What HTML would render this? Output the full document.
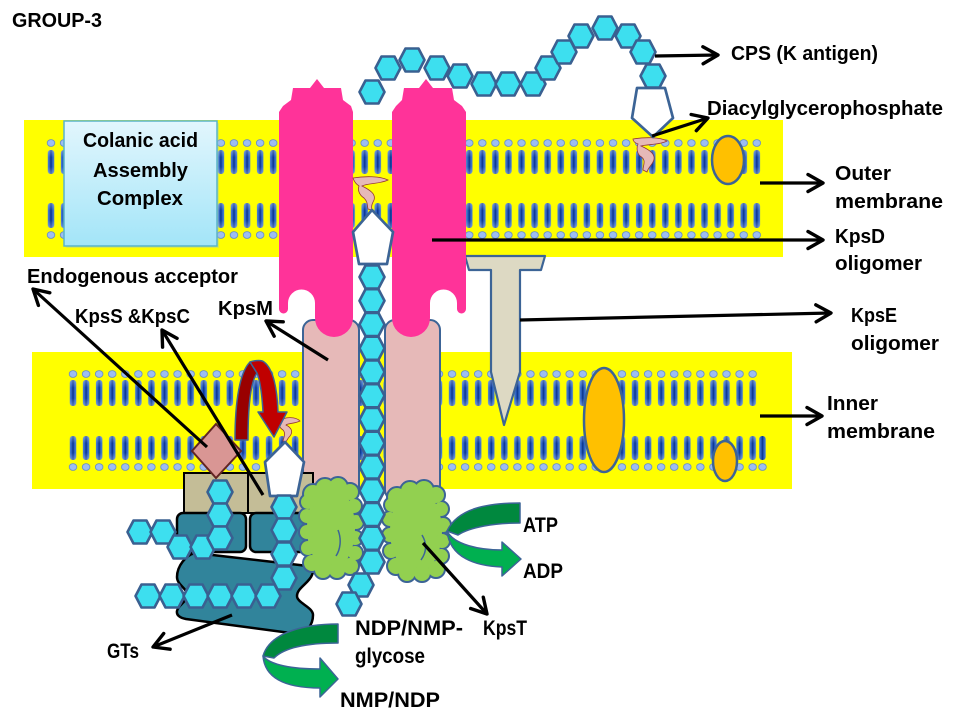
<!DOCTYPE html>
<html><head><meta charset="utf-8"><style>
html,body{margin:0;padding:0;background:#fff;}
svg{display:block;}
text{font-family:"Liberation Sans",Arial,sans-serif;font-weight:bold;fill:#000;}
</style></head><body>
<svg width="960" height="720" viewBox="0 0 960 720" xmlns="http://www.w3.org/2000/svg">
<defs>
  <linearGradient id="tail" x1="0" y1="0" x2="1" y2="0">
    <stop offset="0" stop-color="#4a80d8"/>
    <stop offset="0.3" stop-color="#2a5fbe"/>
    <stop offset="0.5" stop-color="#08318a"/>
    <stop offset="0.7" stop-color="#2a5fbe"/>
    <stop offset="1" stop-color="#4a80d8"/>
  </linearGradient>
  <linearGradient id="tailv" x1="0" y1="0" x2="0" y2="1">
    <stop offset="0" stop-color="#ffffff" stop-opacity="0.3"/>
    <stop offset="0.3" stop-color="#ffffff" stop-opacity="0"/>
    <stop offset="0.7" stop-color="#ffffff" stop-opacity="0"/>
    <stop offset="1" stop-color="#ffffff" stop-opacity="0.3"/>
  </linearGradient>
  <linearGradient id="box" x1="0" y1="0" x2="0" y2="1">
    <stop offset="0" stop-color="#e2f6fd"/>
    <stop offset="1" stop-color="#a3e5f8"/>
  </linearGradient>
  <pattern id="lipO" patternUnits="userSpaceOnUse" x="44.465" y="0" width="13.07" height="720">
    <ellipse cx="6.535" cy="143" rx="3.8" ry="3.4" fill="#9dbdf2" stroke="#5f88cc" stroke-width="0.8"/>
    <rect x="3.3" y="150" width="6.5" height="24" rx="3" fill="url(#tail)"/>
    <rect x="3.3" y="150" width="6.5" height="24" rx="3" fill="url(#tailv)"/>
    <rect x="3.3" y="203" width="6.5" height="25" rx="3" fill="url(#tail)"/>
    <rect x="3.3" y="203" width="6.5" height="25" rx="3" fill="url(#tailv)"/>
    <ellipse cx="6.535" cy="235" rx="3.8" ry="3.4" fill="#9dbdf2" stroke="#5f88cc" stroke-width="0.8"/>
  </pattern>
  <pattern id="lipI" patternUnits="userSpaceOnUse" x="66.465" y="0" width="13.07" height="720">
    <ellipse cx="6.535" cy="374" rx="3.8" ry="3.4" fill="#9dbdf2" stroke="#5f88cc" stroke-width="0.8"/>
    <rect x="3.3" y="380" width="6.5" height="26" rx="3" fill="url(#tail)"/>
    <rect x="3.3" y="380" width="6.5" height="26" rx="3" fill="url(#tailv)"/>
    <rect x="3.3" y="436" width="6.5" height="24" rx="3" fill="url(#tail)"/>
    <rect x="3.3" y="436" width="6.5" height="24" rx="3" fill="url(#tailv)"/>
    <ellipse cx="6.535" cy="467" rx="3.8" ry="3.4" fill="#9dbdf2" stroke="#5f88cc" stroke-width="0.8"/>
  </pattern>
  <polygon id="hx" points="-12.5,0 -6.5,-11.5 6.5,-11.5 12.5,0 6.5,11.5 -6.5,11.5" fill="#3ddfef" stroke="#3a6091" stroke-width="2.6" stroke-linejoin="round"/>
  <marker id="ah" markerUnits="userSpaceOnUse" markerWidth="30" markerHeight="30" viewBox="-20 -15 30 30" refX="0" refY="0" orient="auto">
    <path d="M-15,-8.5 L0,0 L-15,8.5" fill="none" stroke="#000" stroke-width="3.4" stroke-linecap="round" stroke-linejoin="round"/>
  </marker>
</defs>

<!-- Membranes -->
<rect x="24" y="120" width="759" height="137" fill="#ffff00"/>
<rect x="44.465" y="130" width="718.85" height="112" fill="url(#lipO)"/>
<rect x="32" y="352" width="760" height="137" fill="#ffff00"/>
<rect x="66.465" y="365" width="692.7" height="110" fill="url(#lipI)"/>
<rect x="759.2" y="436" width="6.5" height="24" rx="3" fill="url(#tail)"/>
<ellipse cx="762.5" cy="467" rx="3.8" ry="3.4" fill="#9dbdf2" stroke="#5f88cc" stroke-width="0.8"/>

<!-- Colanic acid box -->
<rect x="66" y="123" width="153" height="125" fill="#9fc3cc" opacity="0.35"/>
<rect x="64" y="121" width="153" height="125" fill="url(#box)" stroke="#5ab4cc" stroke-width="1.5"/>
<text x="83" y="147" font-size="20" textLength="115" lengthAdjust="spacingAndGlyphs">Colanic acid</text>
<text x="93" y="177" font-size="20" textLength="95" lengthAdjust="spacingAndGlyphs">Assembly</text>
<text x="97" y="205" font-size="20" textLength="86" lengthAdjust="spacingAndGlyphs">Complex</text>

<!-- Orange proteins -->
<ellipse cx="728" cy="160" rx="16" ry="24" fill="#ffc000" stroke="#3c6496" stroke-width="2.5"/>
<ellipse cx="604" cy="420" rx="20" ry="52" fill="#ffc000" stroke="#3c6496" stroke-width="2.5"/>
<ellipse cx="725" cy="461" rx="12" ry="20" fill="#ffc000" stroke="#3c6496" stroke-width="2.5"/>

<!-- KpsE T -->
<path d="M465,256 L545,256 L541,270 L520,270 L520,372 L504,425 L491,372 L491,270 L469,270 Z" fill="#ddd9c3" stroke="#3c6496" stroke-width="2.2" stroke-linejoin="round"/>

<!-- KpsM light pink pillars -->
<rect x="303" y="320" width="56" height="180" rx="10" fill="#e6b9b8" stroke="#3c6496" stroke-width="2"/>
<rect x="385" y="320" width="55" height="180" rx="10" fill="#e6b9b8" stroke="#3c6496" stroke-width="2"/>

<!-- KpsD pink pillars -->
<path d="M279,112 L283,106 L291,100 L293,88 L310,88 L317,79 L324,88 L341,88 L343,100 L351,106 L353,112 L353,318 A19,19 0 0 1 315,318 L315,303 A13.5,13.5 0 0 0 288,303 L288,309 A4.5,4.5 0 0 1 279,309 Z" fill="#ff3399"/>
<path d="M392,112 L396,106 L402,100 L404,88 L419,88 L426,79 L433,88 L452,88 L454,100 L462,106 L466,112 L466,309 A4.5,4.5 0 0 1 457,309 L457,303 A13.5,13.5 0 0 0 430,303 L430,318 A19,19 0 0 1 392,318 Z" fill="#ff3399"/>

<!-- squiggles -->
<path d="M353,178 C365,176 380,176 388,180 C380,184 368,183 362,186 C370,190 376,194 374,200 C372,204 371,206 372,210 L368,209 C367,205 368,202 364,198 C358,194 358,189 359,186 C356,184 354,181 353,178 Z" fill="#e6b9b8" stroke="#953735" stroke-width="0.8"/>
<path d="M633,139 C645,137 660,137 667,141 C660,145 648,144 641,146 C650,150 657,155 653,162 C651,166 648,168 647,172 L643,170 C643,165 647,160 640,156 C636,152 637,146 638,144 C635,143 633,141 633,139 Z" fill="#e6b9b8" stroke="#953735" stroke-width="0.8"/>
<path d="M280,421 C285,416 296,417 300,421 C294,424 288,423 286,425 C292,428 293,432 290,436 C288,438 287,440 286,442 L283,441 C284,437 286,433 283,430 C280,428 278,425 280,421 Z" fill="#e6b9b8" stroke="#953735" stroke-width="0.8"/>

<!-- Pentagons -->
<polygon points="372,210 393,232 387,264 359,264 353,232" fill="#fff" stroke="#3c6496" stroke-width="2.7" stroke-linejoin="round"/>
<polygon points="637,88 665,88 673,118 653,137 632,118" fill="#fff" stroke="#3c6496" stroke-width="2.7" stroke-linejoin="round"/>

<!-- Top CPS chain -->
<use href="#hx" x="372" y="92"/><use href="#hx" x="388" y="68"/><use href="#hx" x="412" y="60"/>
<use href="#hx" x="437" y="68"/><use href="#hx" x="460" y="76"/><use href="#hx" x="484" y="84"/>
<use href="#hx" x="508" y="84"/><use href="#hx" x="533" y="84"/><use href="#hx" x="548" y="68"/>
<use href="#hx" x="564" y="52"/><use href="#hx" x="581" y="36"/><use href="#hx" x="605" y="28"/>
<use href="#hx" x="628" y="36"/><use href="#hx" x="643" y="52"/><use href="#hx" x="653" y="76"/>

<!-- GT complex -->
<rect x="184" y="473" width="64" height="40" fill="#c4bd97" stroke="#000" stroke-width="2"/>
<rect x="248" y="473" width="65" height="40" fill="#c4bd97" stroke="#000" stroke-width="2"/>
<rect x="177" y="513" width="69" height="39" rx="6" fill="#31849b" stroke="#000" stroke-width="2.5"/>
<rect x="250" y="513" width="63" height="39" rx="6" fill="#31849b" stroke="#000" stroke-width="2.5"/>
<path d="M195,553 L308,566 Q315,568 312,575 C309,583 297,588 297,596 C297,603 313,607 313,615 C313,625 306,634 298,634 L186,619 Q176,617 177,611 C178,605 187,602 187,595 C187,588 177,585 177,577 C177,566 186,555 195,553 Z" fill="#31849b" stroke="#000" stroke-width="2.5"/>

<!-- diamond -->
<polygon points="216,424 241,451 216,478 192,451" fill="#d99694" stroke="#632523" stroke-width="2"/>
<!-- inner white pentagon -->
<polygon points="285,442 304,462 297,496 270,496 265,462" fill="#fff" stroke="#3c6496" stroke-width="2.7" stroke-linejoin="round"/>

<!-- GT hexes -->
<use href="#hx" x="140" y="532"/><use href="#hx" x="163" y="532"/><use href="#hx" x="180" y="547"/><use href="#hx" x="203" y="547"/>
<use href="#hx" x="220" y="492"/><use href="#hx" x="220" y="515"/><use href="#hx" x="220" y="538"/>
<use href="#hx" x="284" y="507"/><use href="#hx" x="284" y="530"/><use href="#hx" x="284" y="554"/><use href="#hx" x="284" y="578"/>
<use href="#hx" x="148" y="596"/><use href="#hx" x="172" y="596"/><use href="#hx" x="196" y="596"/>
<use href="#hx" x="220" y="596"/><use href="#hx" x="244" y="596"/><use href="#hx" x="268" y="596"/>

<!-- green KpsT blobs -->
<g stroke="#3c6496" stroke-width="4" fill="#92d050">
  <ellipse cx="331" cy="528" rx="24" ry="42"/>
  <circle cx="313" cy="494" r="9"/><circle cx="325" cy="488" r="9"/><circle cx="338" cy="487" r="9"/><circle cx="350" cy="492" r="8"/>
  <circle cx="354" cy="506" r="7"/><circle cx="356" cy="522" r="7"/><circle cx="355" cy="538" r="7"/><circle cx="355" cy="553" r="7"/><circle cx="350" cy="566" r="8"/>
  <circle cx="337" cy="570" r="8"/><circle cx="323" cy="570" r="8"/><circle cx="312" cy="563" r="8"/>
  <circle cx="308" cy="548" r="7"/><circle cx="307" cy="532" r="7"/><circle cx="307" cy="516" r="7"/><circle cx="308" cy="502" r="7"/>
  <ellipse cx="416" cy="531" rx="26" ry="42"/>
  <circle cx="397" cy="497" r="9"/><circle cx="410" cy="491" r="9"/><circle cx="424" cy="490" r="9"/><circle cx="436" cy="495" r="8"/>
  <circle cx="441" cy="509" r="7"/><circle cx="443" cy="525" r="7"/><circle cx="442" cy="541" r="7"/><circle cx="441" cy="556" r="7"/><circle cx="436" cy="569" r="8"/>
  <circle cx="422" cy="573" r="8"/><circle cx="407" cy="573" r="8"/><circle cx="396" cy="566" r="8"/>
  <circle cx="391" cy="551" r="7"/><circle cx="390" cy="535" r="7"/><circle cx="390" cy="519" r="7"/><circle cx="392" cy="505" r="7"/>
</g>
<g fill="#92d050">
  <ellipse cx="331" cy="528" rx="24" ry="42"/>
  <circle cx="313" cy="494" r="9"/><circle cx="325" cy="488" r="9"/><circle cx="338" cy="487" r="9"/><circle cx="350" cy="492" r="8"/>
  <circle cx="354" cy="506" r="7"/><circle cx="356" cy="522" r="7"/><circle cx="355" cy="538" r="7"/><circle cx="355" cy="553" r="7"/><circle cx="350" cy="566" r="8"/>
  <circle cx="337" cy="570" r="8"/><circle cx="323" cy="570" r="8"/><circle cx="312" cy="563" r="8"/>
  <circle cx="308" cy="548" r="7"/><circle cx="307" cy="532" r="7"/><circle cx="307" cy="516" r="7"/><circle cx="308" cy="502" r="7"/>
  <ellipse cx="416" cy="531" rx="26" ry="42"/>
  <circle cx="397" cy="497" r="9"/><circle cx="410" cy="491" r="9"/><circle cx="424" cy="490" r="9"/><circle cx="436" cy="495" r="8"/>
  <circle cx="441" cy="509" r="7"/><circle cx="443" cy="525" r="7"/><circle cx="442" cy="541" r="7"/><circle cx="441" cy="556" r="7"/><circle cx="436" cy="569" r="8"/>
  <circle cx="422" cy="573" r="8"/><circle cx="407" cy="573" r="8"/><circle cx="396" cy="566" r="8"/>
  <circle cx="391" cy="551" r="7"/><circle cx="390" cy="535" r="7"/><circle cx="390" cy="519" r="7"/><circle cx="392" cy="505" r="7"/>
</g>
<path d="M338,530 C342,540 340,550 336,556 M422,535 C428,545 426,553 421,560" fill="none" stroke="#3c6496" stroke-width="1.5"/>

<!-- vertical chain -->
<use href="#hx" x="372" y="277"/><use href="#hx" x="372" y="300.75"/><use href="#hx" x="372" y="324.5"/>
<use href="#hx" x="372" y="348.25"/><use href="#hx" x="372" y="372"/><use href="#hx" x="372" y="395.75"/>
<use href="#hx" x="372" y="419.5"/><use href="#hx" x="372" y="443.25"/><use href="#hx" x="372" y="467"/>
<use href="#hx" x="372" y="490.75"/><use href="#hx" x="372" y="514.5"/><use href="#hx" x="372" y="538.25"/>
<use href="#hx" x="372" y="562"/><use href="#hx" x="361" y="585"/><use href="#hx" x="349" y="604"/>

<!-- red arrow -->
<path d="M235,440 C235,400 240,372 250,362 L257,373 C252,380 248,400 248,440 Z" fill="#990000" stroke="#3c6496" stroke-width="1.5" stroke-linejoin="round"/>
<path d="M250,362 C256,360 262,360 264,362 C272,368 277,385 278,412 L287,412 L274,437 L258,412 L263,412 C262,395 260,380 257,373 Z" fill="#c00000" stroke="#3c6496" stroke-width="1.5" stroke-linejoin="round"/>

<!-- green curved arrows -->
<path d="M520,503 C488,503 458,508 447,531 L458,535 C470,527 495,523 520,523 Z" fill="#00883e" stroke="#3c6496" stroke-width="1.5" stroke-linejoin="round"/>
<path d="M447,531 C454,545 480,550 502,550 L502,542 L521,559 L502,576 L502,567 C476,566 450,558 447,531 Z" fill="#00b050" stroke="#3c6496" stroke-width="1.5" stroke-linejoin="round"/>
<path d="M338,624 C305,624 270,632 263,656 L274,658 C284,648 305,643 338,643 Z" fill="#00883e" stroke="#3c6496" stroke-width="1.5" stroke-linejoin="round"/>
<path d="M263,656 C270,665 292,669 320,669 L320,658 L338,679 L320,697 L320,688 C290,688 265,681 263,656 Z" fill="#00b050" stroke="#3c6496" stroke-width="1.5" stroke-linejoin="round"/>

<!-- black arrows -->
<g stroke="#000" stroke-width="3.2" fill="none" marker-end="url(#ah)">
  <line x1="655" y1="56" x2="718" y2="55"/>
  <line x1="652" y1="136" x2="708" y2="118"/>
  <line x1="760" y1="183" x2="823" y2="183"/>
  <line x1="432" y1="240" x2="823" y2="240"/>
  <line x1="520" y1="320" x2="831" y2="313"/>
  <line x1="760" y1="416" x2="822" y2="416"/>
  <line x1="207" y1="447" x2="33" y2="289"/>
  <line x1="263" y1="495" x2="162" y2="330"/>
  <line x1="328" y1="360" x2="266" y2="321"/>
  <line x1="232" y1="615" x2="153" y2="647"/>
  <line x1="423" y1="543" x2="487" y2="614"/>
</g>

<!-- labels -->
<text x="12" y="27" font-size="20" textLength="90" lengthAdjust="spacingAndGlyphs">GROUP-3</text>
<text x="731" y="60" font-size="20" textLength="147" lengthAdjust="spacingAndGlyphs">CPS (K antigen)</text>
<text x="707" y="115" font-size="20" textLength="236" lengthAdjust="spacingAndGlyphs">Diacylglycerophosphate</text>
<text x="835" y="180" font-size="20" textLength="56" lengthAdjust="spacingAndGlyphs">Outer</text>
<text x="835" y="208" font-size="20" textLength="108" lengthAdjust="spacingAndGlyphs">membrane</text>
<text x="835" y="243" font-size="20" textLength="50" lengthAdjust="spacingAndGlyphs">KpsD</text>
<text x="835" y="270" font-size="20" textLength="87" lengthAdjust="spacingAndGlyphs">oligomer</text>
<text x="851" y="322" font-size="20" textLength="46" lengthAdjust="spacingAndGlyphs">KpsE</text>
<text x="851" y="350" font-size="20" textLength="88" lengthAdjust="spacingAndGlyphs">oligomer</text>
<text x="827" y="410" font-size="20" textLength="51" lengthAdjust="spacingAndGlyphs">Inner</text>
<text x="827" y="438" font-size="20" textLength="108" lengthAdjust="spacingAndGlyphs">membrane</text>
<text x="27" y="283" font-size="20" textLength="211" lengthAdjust="spacingAndGlyphs">Endogenous acceptor</text>
<text x="75" y="323" font-size="20" textLength="115" lengthAdjust="spacingAndGlyphs">KpsS &amp;KpsC</text>
<text x="218" y="315" font-size="20" textLength="55" lengthAdjust="spacingAndGlyphs">KpsM</text>
<text x="523" y="532" font-size="21" textLength="35" lengthAdjust="spacingAndGlyphs">ATP</text>
<text x="523" y="578" font-size="21" textLength="40" lengthAdjust="spacingAndGlyphs">ADP</text>
<text x="483" y="635" font-size="21" textLength="44" lengthAdjust="spacingAndGlyphs">KpsT</text>
<text x="355" y="635" font-size="21" textLength="108" lengthAdjust="spacingAndGlyphs">NDP/NMP-</text>
<text x="355" y="663" font-size="21" textLength="70" lengthAdjust="spacingAndGlyphs">glycose</text>
<text x="340" y="707" font-size="21" textLength="100" lengthAdjust="spacingAndGlyphs">NMP/NDP</text>
<text x="107" y="658" font-size="21" textLength="32" lengthAdjust="spacingAndGlyphs">GTs</text>
</svg>
</body></html>
